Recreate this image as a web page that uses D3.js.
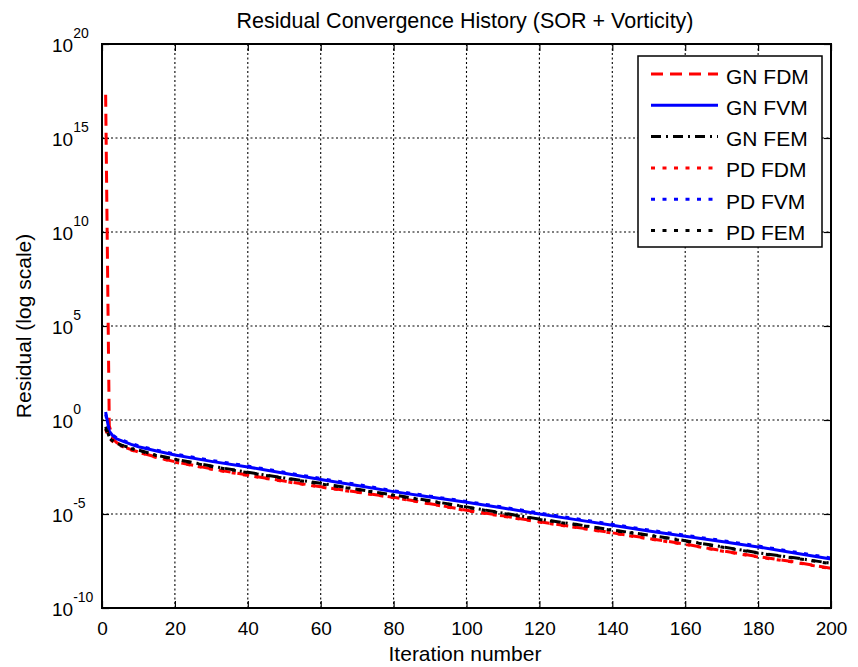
<!DOCTYPE html>
<html>
<head>
<meta charset="utf-8">
<script src="https://cdn.jsdelivr.net/npm/d3@7"></script>
<style>
  body { margin: 0; background: #fff; }
  svg text { font-family: "Liberation Sans", Arial, sans-serif; fill: #000; }
</style>
</head>
<body>
<svg id="chart" width="858" height="667"></svg>
<script>
const width = 858
const height = 667

const iterations = [1, 2, 3, 4, 6, 8, 10, 15, 20, 30, 40, 50, 60, 70, 80, 90, 100, 110, 120, 130, 140, 150, 160, 170, 180, 190, 200]

// residuals as log10 values
const gnFDM = [17.3, -0.3, -1.0, -1.2, -1.42, -1.58, -1.7, -1.98, -2.22, -2.6, -2.93, -3.25, -3.55, -3.83, -4.11, -4.45, -4.8, -5.1, -5.41, -5.7, -6.0, -6.3, -6.6, -6.95, -7.27, -7.55, -7.89]
const gnFVM = [0.43, -0.6, -0.85, -1.0, -1.15, -1.3, -1.42, -1.65, -1.86, -2.2, -2.5, -2.83, -3.16, -3.48, -3.81, -4.1, -4.38, -4.68, -5.0, -5.3, -5.6, -5.9, -6.18, -6.46, -6.75, -7.07, -7.39]
const gnFEM = [-0.36, -0.9, -1.1, -1.25, -1.38, -1.5, -1.6, -1.88, -2.08, -2.45, -2.78, -3.08, -3.37, -3.68, -3.99, -4.3, -4.62, -4.95, -5.27, -5.55, -5.85, -6.12, -6.42, -6.74, -7.06, -7.33, -7.62]
const pdFDM = [-0.5, -1.0, -1.15, -1.28, -1.45, -1.6, -1.72, -2.0, -2.24, -2.62, -2.95, -3.27, -3.57, -3.85, -4.13, -4.47, -4.82, -5.12, -5.43, -5.72, -6.02, -6.32, -6.62, -6.97, -7.29, -7.57, -7.91]
const pdFVM = [0.3, -0.55, -0.8, -0.95, -1.1, -1.25, -1.37, -1.6, -1.81, -2.15, -2.45, -2.78, -3.11, -3.43, -3.76, -4.05, -4.33, -4.63, -4.95, -5.25, -5.55, -5.85, -6.13, -6.41, -6.7, -7.02, -7.34]
const pdFEM = [-0.45, -0.95, -1.13, -1.27, -1.4, -1.53, -1.63, -1.9, -2.1, -2.47, -2.8, -3.1, -3.4, -3.7, -4.01, -4.32, -4.64, -4.97, -5.29, -5.57, -5.87, -6.14, -6.44, -6.76, -7.08, -7.35, -7.64]

const seriesNames = ['GN FDM', 'GN FVM', 'GN FEM', 'PD FDM', 'PD FVM', 'PD FEM']
const seriesValues = [gnFDM, gnFVM, gnFEM, pdFDM, pdFVM, pdFEM]
const seriesColors = ['#ff0000', '#0000ff', '#000000', '#ff0000', '#0000ff', '#000000']
const seriesDash = ['12,7', null, '10,5,2,5', '4,7.5', '4,7.5', '4,7.5']

const xTicks = [0, 20, 40, 60, 80, 100, 120, 140, 160, 180, 200]
const yExponents = [-10, -5, 0, 5, 10, 15, 20]

const margin = { left: 102, top: 44, right: 27, bottom: 59 }

const x = d3.scaleLinear()
    .domain([0, 200])
    .range([margin.left, width - margin.right])

const y = d3.scaleLog()
    .domain([1e-10, 1e20])
    .range([height - margin.bottom, margin.top])

const svg = d3.select('#chart')

// dotted grid
const grid = svg.append('g')
    .attr('stroke', '#000')
    .attr('stroke-width', 1.1)
    .attr('stroke-dasharray', '2,2.5')
grid.selectAll('.vg')
    .data(xTicks.slice(1, -1))
    .join('line')
    .attr('x1', d => x(d)).attr('x2', d => x(d))
    .attr('y1', y(1e20)).attr('y2', y(1e-10))
grid.selectAll('.hg')
    .data(yExponents.slice(1, -1))
    .join('line')
    .attr('y1', d => y(Math.pow(10, d))).attr('y2', d => y(Math.pow(10, d)))
    .attr('x1', x(0)).attr('x2', x(200))

// inward ticks on all four sides
const yTickVals = yExponents.map(e => Math.pow(10, e))
const styleAxis = g => g
    .call(g => g.select('.domain').remove())
    .call(g => g.selectAll('.tick line').attr('stroke', '#000').attr('stroke-width', 1.2))

svg.append('g')
    .attr('transform', `translate(0,${y(1e-10)})`)
    .call(d3.axisBottom(x).tickValues(xTicks).tickSize(-7).tickPadding(14))
    .call(styleAxis)
    .call(g => g.selectAll('.tick text')
        .attr('font-size', 19)
        .attr('font-family', '"Liberation Sans", Arial, sans-serif'))

svg.append('g')
    .attr('transform', `translate(0,${y(1e20)})`)
    .call(d3.axisTop(x).tickValues(xTicks).tickSize(-7).tickFormat(''))
    .call(styleAxis)

svg.append('g')
    .attr('transform', `translate(${x(0)},0)`)
    .call(d3.axisLeft(y).tickValues(yTickVals).tickSize(-7).tickFormat(''))
    .call(styleAxis)

svg.append('g')
    .attr('transform', `translate(${x(200)},0)`)
    .call(d3.axisRight(y).tickValues(yTickVals).tickSize(-7).tickFormat(''))
    .call(styleAxis)

// y tick labels 10^n
const yLab = svg.append('g')
    .selectAll('text')
    .data(yExponents)
    .join('text')
    .attr('x', 52)
    .attr('y', d => y(Math.pow(10, d)) + 8)
    .attr('font-size', 19)
yLab.append('tspan').text('10')
yLab.append('tspan')
    .attr('dy', -14)
    .attr('font-size', 14)
    .text(d => String(d))

// series
const plot = svg.append('g')
const line = d3.line()
    .x(d => x(d[0]))
    .y(d => y(Math.pow(10, d[1])))

seriesValues.forEach((vals, i) => {
    plot.append('path')
        .datum(iterations.map((it, j) => [it, vals[j]]))
        .attr('fill', 'none')
        .attr('stroke', seriesColors[i])
        .attr('stroke-width', 3)
        .attr('stroke-dasharray', seriesDash[i])
        .attr('d', line)
})

// frame
svg.append('rect')
    .attr('x', x(0)).attr('y', y(1e20))
    .attr('width', x(200) - x(0))
    .attr('height', y(1e-10) - y(1e20))
    .attr('fill', 'none')
    .attr('stroke', '#000')
    .attr('stroke-width', 2)

// legend
const legend = svg.append('g')
legend.append('rect')
    .attr('x', 638).attr('y', 56)
    .attr('width', 184).attr('height', 191)
    .attr('fill', '#fff')
    .attr('stroke', '#000')
    .attr('stroke-width', 1.5)

seriesNames.forEach((name, i) => {
    const ly = 74 + i * 31.3
    legend.append('line')
        .attr('x1', 651).attr('x2', 718)
        .attr('y1', ly).attr('y2', ly)
        .attr('stroke', seriesColors[i])
        .attr('stroke-width', 3)
        .attr('stroke-dasharray', seriesDash[i])
    legend.append('text')
        .attr('x', 726)
        .attr('y', ly + 9.5)
        .attr('font-size', 21)
        .text(name)
})

// title and axis labels
svg.append('text')
    .attr('x', 465).attr('y', 28)
    .attr('text-anchor', 'middle')
    .attr('font-size', 21.5)
    .text('Residual Convergence History (SOR + Vorticity)')

svg.append('text')
    .attr('x', 465).attr('y', 661)
    .attr('text-anchor', 'middle')
    .attr('font-size', 21)
    .text('Iteration number')

svg.append('text')
    .attr('transform', `translate(31,${(y(1e20) + y(1e-10)) / 2}) rotate(-90)`)
    .attr('text-anchor', 'middle')
    .attr('font-size', 21)
    .text('Residual (log scale)')
</script>
</body>
</html>
